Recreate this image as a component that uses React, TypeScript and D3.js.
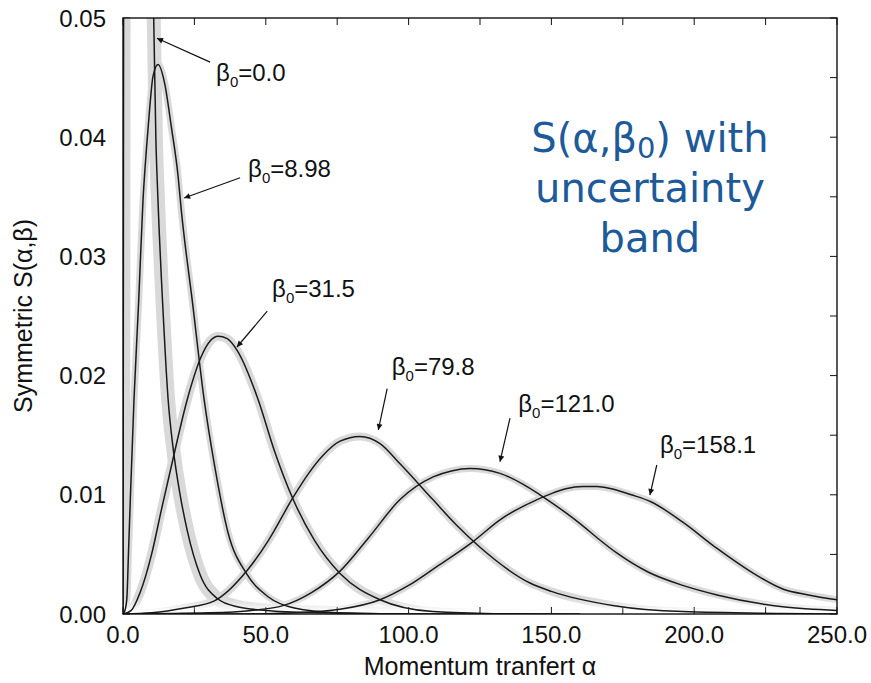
import React, { useEffect, useRef } from 'react';
import * as d3 from 'd3';

// beta0 = 0.0
const alphaB0 = [0, 0.1, 0.2, 0.4, 1, 3, 6, 9, 10.2, 10.75, 11.5, 12.25, 14, 15.8, 17.5, 20, 22.5, 27, 33, 40, 50, 70, 100];
const sB0 = [0, 0.02, 0.05, 0.1, 0.16, 0.2, 0.17, 0.09, 0.06, 0.05, 0.04, 0.0347, 0.0255, 0.018, 0.014, 0.01, 0.007, 0.0033, 0.0013, 0.0006, 0.0003, 0.0001, 0];

// beta0 = 8.98
const alphaB1 = [0, 0.8, 1.4, 1.9, 2.56, 3.85, 5.5, 7, 8.2, 9.3, 10.5, 12.25, 14.6, 16.9, 19.3, 20.4, 24.4, 28.4, 32.1, 36.8, 43.2, 50.8, 60, 75, 90, 120];
const sB1 = [0, 0.0004, 0.0015, 0.005, 0.0096, 0.018, 0.0263, 0.0347, 0.039, 0.0423, 0.0451, 0.0461, 0.0445, 0.0409, 0.0367, 0.0339, 0.026, 0.018, 0.0124, 0.0068, 0.0034, 0.00145, 0.0005, 0.0001, 0.00003, 0];

// beta0 = 31.5
const alphaB2 = [0, 2.9, 6, 10, 13.5, 17.5, 22.5, 27.4, 30.5, 33.3, 36.5, 40, 47.3, 53, 59.6, 67, 76, 90, 108.5, 130, 160];
const sB2 = [0, 0.0003, 0.0018, 0.005, 0.0088, 0.013, 0.018, 0.0216, 0.0229, 0.0233, 0.0231, 0.0221, 0.018, 0.0137, 0.0096, 0.0062, 0.0034, 0.0012, 0.0002, 0.00003, 0];

// beta0 = 79.8
const alphaB3 = [0, 10, 21.6, 32, 43.3, 51, 59.6, 65, 70, 76, 83, 90, 97, 108.5, 117, 125, 142.5, 150, 172, 196, 230, 250];
const sB3 = [0, 0.0001, 0.0005, 0.0011, 0.0036, 0.0062, 0.0098, 0.0118, 0.0133, 0.0145, 0.0149, 0.0143, 0.0126, 0.0096, 0.0074, 0.0056, 0.0026, 0.0019, 0.0007, 0.0002, 0.00005, 0];

// beta0 = 121.0
const alphaB4 = [0, 30, 45, 56, 66, 76, 86, 97, 108.6, 115, 121.5, 132, 140, 146, 155, 161, 166, 173, 184, 196, 208, 231, 250];
const sB4 = [0, 0.0001, 0.0003, 0.0007, 0.0018, 0.0036, 0.0064, 0.0096, 0.0115, 0.012, 0.0122, 0.0118, 0.0109, 0.01, 0.0085, 0.0074, 0.0064, 0.0051, 0.0035, 0.0024, 0.0016, 0.0006, 0.0003];

// beta0 = 158.1
const alphaB5 = [0, 40, 60, 76, 90, 100, 110, 122.7, 132, 145, 150, 155, 161, 166, 171, 178, 185, 196, 208, 219.5, 231, 240, 250];
const sB5 = [0, 0, 0.0001, 0.0004, 0.0012, 0.0024, 0.004, 0.0061, 0.0079, 0.0096, 0.0101, 0.0105, 0.0107, 0.0107, 0.0105, 0.01, 0.0094, 0.0077, 0.0055, 0.0036, 0.0021, 0.0016, 0.0012];

const betaLabels = ['0.0', '8.98', '31.5', '79.8', '121.0', '158.1'];

// label anchor (alpha, S) and arrow from -> to, in data units
const labelAlpha = [32.6, 43.8, 52.2, 94.1, 138.4, 188];
const labelS = [0.0447, 0.03666, 0.0266, 0.02005, 0.01697, 0.01353];
const arrowFrom = [[30.5, 0.0463], [41, 0.0366], [50.5, 0.0254], [92.5, 0.0189], [135.5, 0.01644], [186.9, 0.0125]];
const arrowTo = [[11.9, 0.0483], [21.4, 0.0349], [39.9, 0.0224], [89.4, 0.01544], [132, 0.01278], [184.5, 0.00998]];

const xTicks = d3.range(0, 251, 25);
const yTicks = d3.range(0, 0.0501, 0.005);

export default function App() {
  const svgRef = useRef<SVGSVGElement>(null);

  useEffect(() => {
    const W = 871;
    const H = 683;
    const margin = { top: 18, right: 34, bottom: 69, left: 123 };
    const width = W - margin.left - margin.right;
    const height = H - margin.top - margin.bottom;

    const root = d3.select(svgRef.current);
    root.selectAll('*').remove();
    root.attr('width', W).attr('height', H);

    const x = d3.scaleLinear().domain([0, 250]).range([0, width]);
    const y = d3.scaleLinear().domain([0, 0.05]).range([height, 0]);

    const defs = root.append('defs');
    defs.append('clipPath').attr('id', 'plotClip')
      .append('rect').attr('width', width).attr('height', height);
    defs.append('marker')
      .attr('id', 'arrowHead')
      .attr('viewBox', '0 0 10 10')
      .attr('refX', 10).attr('refY', 5)
      .attr('markerUnits', 'userSpaceOnUse')
      .attr('markerWidth', 12).attr('markerHeight', 6)
      .attr('orient', 'auto')
      .append('path').attr('d', 'M0,0 L10,5 L0,10 z').attr('fill', '#111');

    // bands fade out as they approach S = 0
    const grad = defs.append('linearGradient')
      .attr('id', 'bandFade')
      .attr('gradientUnits', 'userSpaceOnUse')
      .attr('x1', 0).attr('x2', 0)
      .attr('y1', y(0.0013)).attr('y2', y(0.0002));
    grad.append('stop').attr('offset', 0).attr('stop-color', '#fff');
    grad.append('stop').attr('offset', 1).attr('stop-color', '#000');
    defs.append('mask')
      .attr('id', 'bandMask')
      .attr('maskUnits', 'userSpaceOnUse')
      .attr('x', -20).attr('y', -20).attr('width', width + 40).attr('height', height + 40)
      .append('rect')
      .attr('x', -20).attr('y', -20).attr('width', width + 40).attr('height', height + 40)
      .attr('fill', 'url(#bandFade)');

    const svg = root.append('g').attr('transform', `translate(${margin.left},${margin.top})`);

    const font = '"Liberation Sans", Arial, sans-serif';
    const tickLen = 7;

    // inward ticks on all four sides
    const ticks = svg.append('g').attr('stroke', '#111').attr('stroke-width', 1);
    xTicks.forEach(t => {
      ticks.append('line').attr('x1', x(t)).attr('x2', x(t)).attr('y1', height).attr('y2', height - tickLen);
      ticks.append('line').attr('x1', x(t)).attr('x2', x(t)).attr('y1', 0).attr('y2', tickLen);
    });
    yTicks.forEach(t => {
      ticks.append('line').attr('x1', 0).attr('x2', tickLen).attr('y1', y(t)).attr('y2', y(t));
      ticks.append('line').attr('x1', width).attr('x2', width - tickLen).attr('y1', y(t)).attr('y2', y(t));
    });

    const series = [
      { a: alphaB0, s: sB0 },
      { a: alphaB1, s: sB1 },
      { a: alphaB2, s: sB2 },
      { a: alphaB3, s: sB3 },
      { a: alphaB4, s: sB4 },
      { a: alphaB5, s: sB5 },
    ].map(d => d.a.map((v, i) => [v, d.s[i]] as [number, number]));

    const bandWidths = [14, 7, 9, 8, 7, 7];

    const line = d3.line<[number, number]>()
      .x(d => x(d[0]))
      .y(d => y(d[1]))
      .curve(d3.curveMonotoneX);

    const plot = svg.append('g').attr('clip-path', 'url(#plotClip)');

    // uncertainty bands
    const bands = plot.append('g').attr('mask', 'url(#bandMask)');
    series.forEach((pts, i) => {
      bands.append('path')
        .attr('d', line(pts))
        .attr('fill', 'none')
        .attr('stroke', '#d9d9d9')
        .attr('stroke-width', bandWidths[i])
        .attr('stroke-linejoin', 'round')
        .attr('stroke-linecap', 'round');
    });

    // central curves
    series.forEach(pts => {
      plot.append('path')
        .attr('d', line(pts))
        .attr('fill', 'none')
        .attr('stroke', '#1a1a1a')
        .attr('stroke-width', 1.5);
    });

    // frame
    svg.append('rect')
      .attr('width', width).attr('height', height)
      .attr('fill', 'none').attr('stroke', '#111').attr('stroke-width', 1.4);

    // tick labels
    xTicks.filter(t => t % 50 === 0).forEach(t => {
      svg.append('text')
        .attr('x', x(t)).attr('y', height + 29)
        .attr('text-anchor', 'middle')
        .attr('font-family', font).attr('font-size', 24).attr('fill', '#111')
        .text(d3.format('.1f')(t));
    });
    d3.range(0, 0.0501, 0.01).forEach(t => {
      svg.append('text')
        .attr('x', -17).attr('y', y(t)).attr('dy', '0.36em')
        .attr('text-anchor', 'end')
        .attr('font-family', font).attr('font-size', 24).attr('fill', '#111')
        .text(d3.format('.2f')(t));
    });

    // axis titles
    svg.append('text')
      .attr('x', width / 2).attr('y', height + 61)
      .attr('text-anchor', 'middle')
      .attr('font-family', font).attr('font-size', 25).attr('fill', '#111')
      .text('Momentum tranfert α');
    svg.append('text')
      .attr('transform', `translate(${32 - margin.left},${height / 2}) rotate(-90)`)
      .attr('text-anchor', 'middle')
      .attr('font-family', font).attr('font-size', 25).attr('fill', '#111')
      .text('Symmetric S(α,β)');

    // curve labels with arrows
    betaLabels.forEach((b, i) => {
      svg.append('line')
        .attr('x1', x(arrowFrom[i][0])).attr('y1', y(arrowFrom[i][1]))
        .attr('x2', x(arrowTo[i][0])).attr('y2', y(arrowTo[i][1]))
        .attr('stroke', '#111').attr('stroke-width', 1.2)
        .attr('marker-end', 'url(#arrowHead)');
      const t = svg.append('text')
        .attr('x', x(labelAlpha[i])).attr('y', y(labelS[i]))
        .attr('font-family', font).attr('font-size', 24).attr('fill', '#111');
      t.append('tspan').text('β');
      t.append('tspan').attr('font-size', 15).attr('dy', 6).text('0');
      t.append('tspan').attr('dy', -6).text('=' + b);
    });

    // blue annotation
    const blue = '#1d5a9a';
    const bx = x(184.5);
    const note = svg.append('g')
      .attr('font-family', '"DejaVu Sans", Verdana, sans-serif')
      .attr('font-size', 40).attr('fill', blue).attr('text-anchor', 'middle');
    const l1 = note.append('text').attr('x', bx).attr('y', y(0.0388));
    l1.append('tspan').text('S(α,β');
    l1.append('tspan').attr('font-size', 29).attr('dy', 6).text('0');
    l1.append('tspan').attr('dy', -6).text(') with');
    note.append('text').attr('x', bx).attr('y', y(0.0346)).text('uncertainty');
    note.append('text').attr('x', bx).attr('y', y(0.0304)).text('band');
  }, []);

  return (
    <svg ref={svgRef} style={{ position: 'absolute', left: 0, top: 0, background: '#fff' }} />
  );
}
